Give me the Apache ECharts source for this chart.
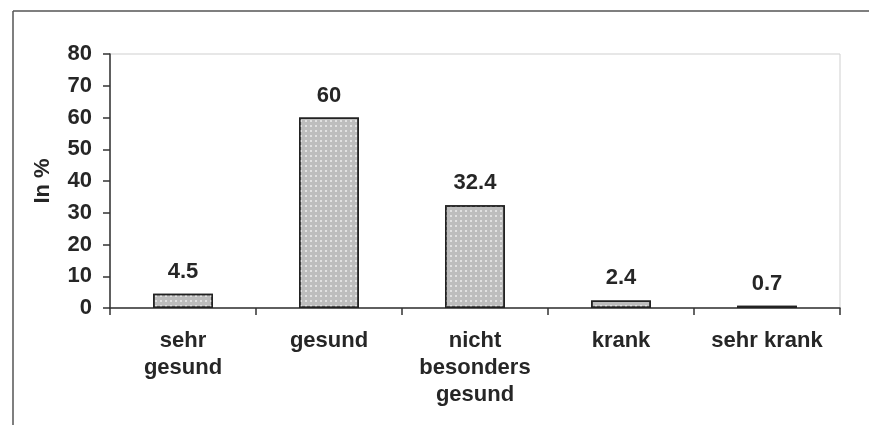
<!DOCTYPE html>
<html>
<head>
<meta charset="utf-8">
<script src="https://cdn.jsdelivr.net/npm/echarts@6/dist/echarts.min.js"></script>
<style>
  html, body { margin: 0; padding: 0; background: #fff; }
  #chart { width: 869px; height: 425px; }
</style>
</head>
<body>
<div id="chart"></div>
<script>
// Werte aus der Abbildung
var kategorien = ['sehr\ngesund', 'gesund', 'nicht\nbesonders\ngesund', 'krank', 'sehr krank'];
var anteile = [4.5, 60, 32.4, 2.4, 0.7];
var yTicks = [0, 10, 20, 30, 40, 50, 60, 70, 80];

var dom = document.getElementById('chart');
var myChart = echarts.init(dom);
var schrift = '"Liberation Sans", Arial, sans-serif';
var textFarbe = '#262626';

var option = {
    backgroundColor: '#fff',
    animation: false,
    textStyle: { fontFamily: schrift },
    grid: {
        left: 110,
        right: 29,
        top: 54,
        bottom: 117,
        show: true,
        borderColor: '#cfcfcf',
        borderWidth: 1
    },
    graphic: [
        // Rahmen oben und links
        { type: 'line', shape: { x1: 13, y1: 11, x2: 869, y2: 11 }, style: { stroke: '#555', lineWidth: 1.5 } },
        { type: 'line', shape: { x1: 13, y1: 11, x2: 13, y2: 425 }, style: { stroke: '#555', lineWidth: 1.5 } }
    ],
    xAxis: {
        type: 'category',
        data: kategorien,
        axisLine: { lineStyle: { color: '#333', width: 1.5 } },
        axisTick: { show: true, length: 7, lineStyle: { color: '#333', width: 1.5 } },
        axisLabel: {
            color: textFarbe,
            fontSize: 22,
            fontWeight: 'bold',
            lineHeight: 27,
            margin: 19,
            interval: 0
        }
    },
    yAxis: {
        type: 'value',
        min: yTicks[0],
        max: yTicks[yTicks.length - 1],
        interval: 10,
        name: 'In %',
        nameLocation: 'middle',
        nameGap: 56,
        nameRotate: 90,
        nameTextStyle: { color: textFarbe, fontSize: 22, fontWeight: 'bold', fontFamily: schrift },
        splitLine: { show: false },
        axisLine: { show: true, lineStyle: { color: '#333', width: 1.5 } },
        axisTick: { show: true, length: 7, lineStyle: { color: '#333', width: 1.5 } },
        axisLabel: {
            color: textFarbe,
            fontSize: 22,
            fontWeight: 'bold',
            margin: 18
        }
    },
    series: [
        {
            type: 'bar',
            data: anteile,
            barWidth: '41%',
            itemStyle: {
                color: '#bdbdbd',
                borderColor: '#222',
                borderWidth: 1.5,
                decal: {
                    symbol: 'rect',
                    symbolSize: 1,
                    color: 'rgba(255,255,255,0.55)',
                    dashArrayX: [2, 3],
                    dashArrayY: [2, 3],
                    rotation: 0
                }
            },
            label: {
                show: true,
                position: 'top',
                distance: 11,
                color: textFarbe,
                fontSize: 22,
                fontWeight: 'bold'
            }
        }
    ]
};

myChart.setOption(option);
</script>
</body>
</html>
